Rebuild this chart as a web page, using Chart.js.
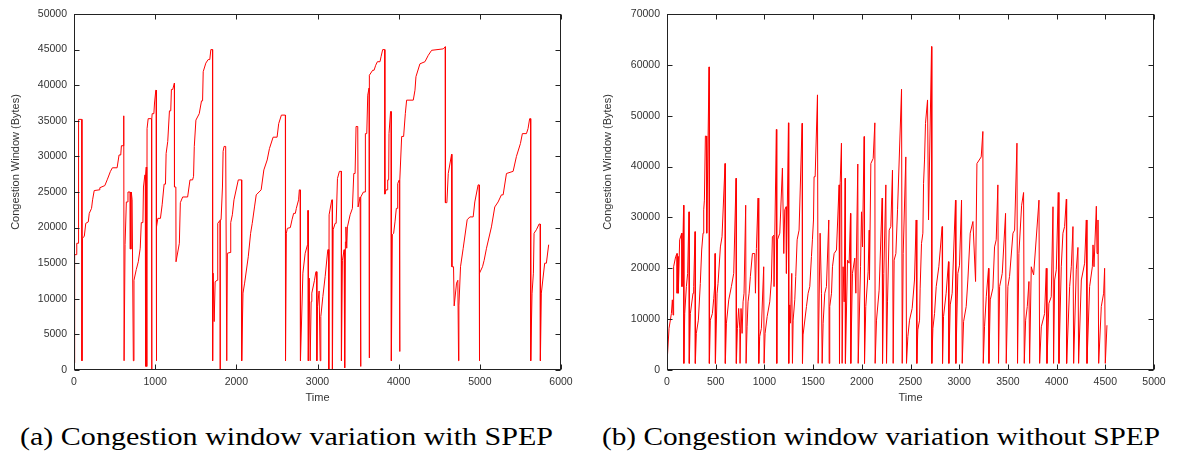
<!DOCTYPE html>
<html lang="en">
  <head>
    <meta charset="UTF-8" />
    <title>Congestion window variation</title>
    <script src="https://cdn.jsdelivr.net/npm/chart.js"></script>
    <style>
      body {
        margin: 0;
        background: #fff;
        width: 1183px;
        height: 452px;
        position: relative;
        overflow: hidden;
      }
      canvas {
        position: absolute;
        top: 0;
      }
      #chartA { left: 0; }
      #chartB { left: 590px; }
      .caption {
        position: absolute;
        top: 422px;
        font-family: "Liberation Serif", serif;
        font-size: 26px;
        line-height: 30px;
        color: #000;
        white-space: nowrap;
        transform-origin: 0 0;
      }
    </style>
  </head>
  <body>
    <canvas id="chartA" width="590" height="410"></canvas>
    <canvas id="chartB" width="593" height="410"></canvas>
    <div class="caption" id="capA" style="left:20px">(a) Congestion window variation with SPEP</div>
    <div class="caption" id="capB" style="left:602px">(b) Congestion window variation without SPEP</div>

    <script>
      // (a) with SPEP: time, congestion window (bytes)
      const timeA = [0, 8, 33, 34, 50, 51, 58, 60, 95, 98, 104, 127, 145, 176, 188, 216, 229, 249, 310, 318,
        380, 412, 449, 473, 531, 555, 576, 584, 604, 612, 614, 617, 629, 645, 657, 665, 692, 694, 704, 706,
        716, 722, 731, 739, 767, 792, 816, 829, 849, 856, 873, 878, 880, 884, 890, 896, 900, 914, 955, 957,
        960, 963, 984, 992, 1008, 1011, 1013, 1020, 1033, 1065, 1086, 1110, 1127, 1135, 1155, 1176, 1192, 1200, 1216, 1237,
        1238, 1255, 1257, 1298, 1310, 1339, 1400, 1429, 1461, 1473, 1482, 1502, 1543, 1571, 1584, 1592, 1624, 1653, 1673, 1686,
        1706, 1708, 1714, 1727, 1739, 1763, 1771, 1798, 1800, 1803, 1812, 1829, 1837, 1849, 1869, 1882, 1890, 1922, 1931, 1951,
        1971, 2024, 2065, 2066, 2082, 2102, 2147, 2176, 2196, 2224, 2245, 2306, 2339, 2380, 2408, 2453, 2502, 2522, 2555, 2604,
        2606, 2616, 2629, 2665, 2686, 2706, 2727, 2739, 2767, 2776, 2786, 2790, 2820, 2848, 2877, 2880, 2885, 2887, 2898, 2910,
        2922, 2930, 2963, 2980, 2990, 2992, 3000, 3020, 3033, 3041, 3066, 3094, 3127, 3137, 3139, 3143, 3176, 3182, 3184, 3193,
        3217, 3230, 3246, 3270, 3293, 3295, 3307, 3328, 3334, 3336, 3344, 3350, 3360, 3369, 3402, 3430, 3447, 3463, 3475, 3496,
        3500, 3525, 3531, 3533, 3535, 3566, 3586, 3590, 3607, 3619, 3635, 3637, 3641, 3680, 3697, 3717, 3738, 3770, 3783, 3803,
        3828, 3830, 3844, 3861, 3865, 3877, 3881, 3900, 3906, 3910, 3922, 3938, 3955, 3971, 3984, 3988, 4008, 4012, 4016, 4037,
        4061, 4082, 4098, 4180, 4201, 4213, 4262, 4324, 4365, 4406, 4549, 4574, 4576, 4594, 4611, 4652, 4656, 4676, 4684, 4713,
        4729, 4738, 4742, 4762, 4795, 4844, 4877, 4918, 4938, 4979, 4990, 4992, 5000, 5033, 5053, 5082, 5143, 5184, 5225, 5266,
        5287, 5328, 5410, 5451, 5500, 5524, 5574, 5594, 5614, 5625, 5627, 5643, 5660, 5668, 5697, 5730, 5744, 5746, 5758, 5799,
        5820, 5848];
      const cwndA = [1000, 16200, 16200, 17800, 17800, 20000, 20000, 35200, 35200, 1300, 18500, 18800, 20600, 20800, 22000, 22700, 23900, 25200, 25300, 25600,
        25900, 26800, 27900, 28400, 28400, 30200, 30200, 31500, 31500, 32300, 35700, 1300, 17600, 23600, 23600, 25000, 25000, 17000, 17000, 25000,
        23900, 23900, 1300, 12600, 14100, 15200, 17100, 20700, 20700, 25700, 27400, 27400, 500, 27400, 28500, 500, 33900, 35300, 35300, 0,
        35300, 36000, 36000, 37500, 39300, 39300, 1300, 20100, 21300, 21300, 23200, 26100, 26100, 30400, 32100, 36400, 36400, 39400, 39400, 40300,
        25700, 25700, 15200, 17800, 23500, 24300, 24300, 26700, 26700, 27200, 31400, 35100, 36000, 37800, 37800, 41900, 43100, 43600, 43600, 45000,
        45000, 1300, 13600, 6800, 12400, 12600, 20600, 21000, 0, 21100, 21100, 25700, 30700, 31400, 31400, 1300, 16400, 16500, 20700, 21800,
        23900, 26700, 26700, 1300, 10800, 12200, 15900, 19200, 20600, 22900, 24600, 25300, 28100, 29500, 31100, 32700, 32700, 34600, 35800, 35800,
        1300, 19200, 19900, 20000, 21100, 22000, 22000, 22700, 23900, 25300, 25300, 1300, 13600, 16400, 17600, 22400, 22400, 1300, 12900, 1300,
        9600, 10800, 12600, 13800, 13800, 1300, 8900, 11100, 1300, 7500, 10300, 13100, 16900, 16900, 0, 21800, 23900, 23900, 0, 19700,
        20600, 20600, 26900, 27900, 27900, 1300, 15400, 16900, 16900, 300, 18000, 20100, 17100, 20100, 21800, 22700, 27600, 27600, 34200, 34200,
        22900, 24300, 24300, 500, 24300, 25000, 25000, 33200, 33200, 38600, 39600, 1700, 41400, 42100, 42100, 42800, 43300, 43300, 44000, 45000,
        45000, 24700, 25300, 25300, 26700, 26700, 33200, 36300, 36300, 1300, 19000, 19200, 20800, 22700, 22700, 26200, 26700, 2600, 26700, 32800,
        32800, 36000, 37900, 37900, 39300, 41200, 43000, 43300, 44200, 44900, 45100, 45400, 23500, 23500, 27600, 30300, 14500, 14500, 9000, 12200,
        12600, 1300, 9000, 14500, 17100, 21100, 21500, 21500, 23600, 26000, 26000, 1300, 13600, 14500, 15400, 17100, 20100, 22900, 23600, 24600,
        24600, 27600, 27900, 30000, 31800, 33200, 33200, 33900, 35300, 35300, 1300, 10700, 13600, 19200, 19700, 20500, 20500, 1300, 10800, 15000,
        15000, 17600];

      // (b) without SPEP
      const timeB = [0, 21, 45, 55, 62, 68, 89, 103, 104, 113, 116, 130, 151, 154, 171, 173, 182, 199, 212, 226,
        229, 240, 267, 274, 288, 291, 301, 322, 342, 356, 370, 377, 384, 394, 404, 408, 432, 435, 445, 466,
        480, 490, 493, 497, 514, 524, 548, 565, 596, 599, 610, 634, 661, 685, 709, 712, 723, 736, 747, 750,
        760, 771, 781, 791, 808, 812, 822, 832, 843, 856, 877, 901, 908, 918, 935, 942, 952, 969, 993, 997,
        1007, 1028, 1055, 1072, 1082, 1096, 1099, 1123, 1127, 1134, 1158, 1185, 1199, 1209, 1223, 1226, 1247, 1250, 1260, 1267,
        1281, 1288, 1295, 1312, 1322, 1336, 1356, 1387, 1391, 1397, 1432, 1449, 1466, 1483, 1493, 1504, 1510, 1521, 1545, 1552,
        1572, 1586, 1593, 1603, 1620, 1637, 1661, 1665, 1671, 1689, 1699, 1716, 1740, 1767, 1771, 1778, 1791, 1798, 1808, 1819,
        1829, 1832, 1853, 1870, 1884, 1887, 1904, 1928, 1939, 1959, 1963, 1987, 1997, 2007, 2024, 2028, 2041, 2065, 2076, 2079,
        2093, 2117, 2134, 2137, 2151, 2178, 2209, 2213, 2226, 2247, 2254, 2264, 2281, 2298, 2315, 2322, 2332, 2350, 2367, 2408,
        2415, 2425, 2452, 2459, 2473, 2490, 2517, 2541, 2558, 2565, 2575, 2593, 2599, 2613, 2627, 2634, 2644, 2654, 2675, 2685,
        2716, 2719, 2730, 2747, 2764, 2791, 2825, 2829, 2839, 2866, 2890, 2894, 2908, 2928, 2962, 2966, 2986, 3003, 3024, 3031,
        3045, 3072, 3089, 3113, 3141, 3168, 3182, 3226, 3243, 3247, 3260, 3278, 3301, 3305, 3319, 3346, 3363, 3380, 3397, 3404,
        3415, 3442, 3476, 3483, 3500, 3517, 3552, 3569, 3593, 3599, 3613, 3641, 3661, 3668, 3682, 3699, 3716, 3723, 3740, 3764,
        3819, 3826, 3843, 3877, 3894, 3901, 3921, 3945, 3963, 3969, 3980, 3997, 4017, 4024, 4048, 4065, 4082, 4100, 4103, 4134,
        4151, 4168, 4175, 4202, 4219, 4226, 4254, 4288, 4305, 4312, 4339, 4367, 4374, 4384, 4408, 4415, 4425, 4432, 4459, 4483,
        4493, 4500, 4517];
      const cwndB = [1300, 8200, 11100, 13800, 10800, 20300, 22300, 22900, 15100, 22300, 15100, 25600, 26900, 16400, 32400, 1300, 11100, 16400, 19000, 31100,
        1300, 11100, 15100, 16400, 27200, 1300, 7200, 9800, 17000, 23600, 26900, 31500, 33400, 46000, 46000, 26900, 59600, 1300, 9800, 11100,
        14100, 16700, 22900, 1300, 15100, 17000, 24200, 26200, 40600, 1300, 9200, 13800, 16400, 19000, 37700, 1300, 8200, 12100, 8200, 1300,
        12100, 7200, 13400, 15100, 32400, 1300, 8500, 13400, 15100, 18400, 22900, 22900, 15100, 23900, 33800, 1300, 6600, 8200, 20300, 1300,
        7200, 10500, 13400, 17700, 26200, 26500, 16400, 47300, 1300, 25600, 26900, 39700, 22900, 31500, 32100, 19000, 48600, 1300, 12800, 9200,
        19000, 1300, 9800, 13800, 18400, 25600, 27500, 48500, 1300, 6900, 12500, 15100, 16400, 22300, 25600, 29500, 38000, 38000, 54100, 1300,
        26900, 15100, 1300, 9200, 15100, 16400, 29500, 1300, 12500, 15100, 20300, 22900, 23600, 36400, 1300, 36800, 44600, 1300, 20300, 13400,
        37700, 1300, 21600, 21000, 30800, 1300, 19000, 22000, 15100, 40500, 1300, 20300, 31100, 24200, 45900, 1300, 12500, 19300, 27500, 17700,
        40600, 41600, 48600, 1300, 9800, 15700, 33800, 1300, 19000, 36400, 1300, 13400, 27500, 28200, 39300, 1300, 21600, 22900, 31500, 55200,
        1300, 22900, 41900, 1300, 6600, 9800, 12100, 17700, 29500, 1300, 7900, 9800, 16100, 24900, 26900, 36700, 41300, 48500, 53100, 29500,
        63600, 1300, 8200, 11100, 16400, 20300, 28200, 1300, 10500, 15100, 21300, 1300, 12800, 15100, 33400, 1300, 19000, 20600, 33400, 1300,
        9500, 12500, 17700, 26900, 29200, 17400, 40600, 41900, 46900, 1300, 8500, 14400, 20000, 1300, 13800, 16100, 24200, 25600, 36400, 1300,
        16400, 19000, 30800, 1300, 16400, 18400, 26900, 27500, 44600, 1300, 22900, 32400, 34900, 1300, 9800, 12500, 17400, 1300, 20300, 18700,
        33400, 1300, 8500, 11100, 20000, 1300, 13100, 14400, 32100, 1300, 17700, 19700, 34900, 1300, 20300, 26900, 28200, 33600, 1300, 16400,
        20300, 28200, 1300, 19700, 24100, 1300, 17700, 21000, 29500, 1300, 16400, 20300, 24600, 20300, 32200, 22900, 29500, 1300, 12500, 15100,
        20000, 1300, 8800];

      const ticksFont = { family: "'Liberation Sans', Arial, sans-serif", size: 10.5 };
      const titleFont = { family: "'Liberation Sans', Arial, sans-serif", size: 11 };
      const yLabel = "Congestion Window (Bytes)";

      // gnuplot style frame with inward ticks on all four sides, plus the y label
      const frameTicks = {
        id: "frameTicks",
        afterDraw(chart, args, opts) {
          const { ctx, chartArea: a, scales } = chart;
          const L = Math.round(a.left) + 0.5, R = Math.round(a.right) - 0.5;
          const T = Math.round(a.top) + 0.5, B = Math.round(a.bottom) - 0.5;
          ctx.save();
          ctx.strokeStyle = "#222";
          ctx.lineWidth = 1;
          ctx.beginPath();
          scales.x.ticks.forEach((t) => {
            const px = Math.round(scales.x.getPixelForValue(t.value)) + 0.5;
            ctx.moveTo(px, B); ctx.lineTo(px, B - 5);
            ctx.moveTo(px, T); ctx.lineTo(px, T + 5);
          });
          scales.y.ticks.forEach((t) => {
            const py = Math.round(scales.y.getPixelForValue(t.value)) + 0.5;
            ctx.moveTo(L, py); ctx.lineTo(L + 5, py);
            ctx.moveTo(R, py); ctx.lineTo(R - 5, py);
          });
          ctx.stroke();
          ctx.strokeRect(L, T, R - L, B - T);

          ctx.translate(opts.labelX, opts.labelY);
          ctx.rotate(-Math.PI / 2);
          ctx.fillStyle = "#333";
          ctx.font = titleFont.size + "px " + titleFont.family;
          ctx.textAlign = "center";
          ctx.textBaseline = "middle";
          ctx.fillText(yLabel, 0, 0);
          ctx.restore();
        },
      };

      function makeChart(id, times, values, xMax, xStep, yMax, yStep, yWidth, padRight, labelX) {
        new Chart(document.getElementById(id), {
          type: "line",
          data: {
            datasets: [{
              data: times.map((t, i) => ({ x: t, y: values[i] })),
              borderColor: "#ff0000",
              borderWidth: 1,
              pointRadius: 0,
              tension: 0,
            }],
          },
          options: {
            responsive: false,
            animation: false,
            layout: { padding: { top: 14, right: padRight, bottom: 0, left: 0 } },
            plugins: {
              legend: { display: false },
              tooltip: { enabled: false },
              frameTicks: { labelX: labelX, labelY: 162 },
            },
            scales: {
              x: {
                type: "linear",
                min: 0,
                max: xMax,
                grid: { display: false, drawTicks: false },
                border: { display: false },
                ticks: { stepSize: xStep, padding: 6, color: "#333", font: ticksFont, maxRotation: 0, callback: (v) => String(v) },
                title: { display: true, text: "Time", color: "#333", font: titleFont, padding: { top: 0, bottom: 5 } },
                afterFit: (s) => { s.height = 40; },
              },
              y: {
                min: 0,
                max: yMax,
                grid: { display: false, drawTicks: false },
                border: { display: false },
                ticks: { stepSize: yStep, padding: 7, color: "#333", font: ticksFont, callback: (v) => String(v) },
                afterFit: (s) => { s.width = yWidth; },
              },
            },
          },
          plugins: [frameTicks],
        });
      }

      makeChart("chartA", timeA, cwndA, 6000, 1000, 50000, 5000, 74, 29, 16);
      makeChart("chartB", timeB, cwndB, 5000, 500, 70000, 10000, 77, 29, 18);

      // stretch the serif captions to the width they take in the figure
      function fitCaption(id, target) {
        const el = document.getElementById(id);
        const w = el.getBoundingClientRect().width;
        el.style.transform = "scaleX(" + (target / w) + ")";
      }
      fitCaption("capA", 533);
      fitCaption("capB", 558);
    </script>
  </body>
</html>
